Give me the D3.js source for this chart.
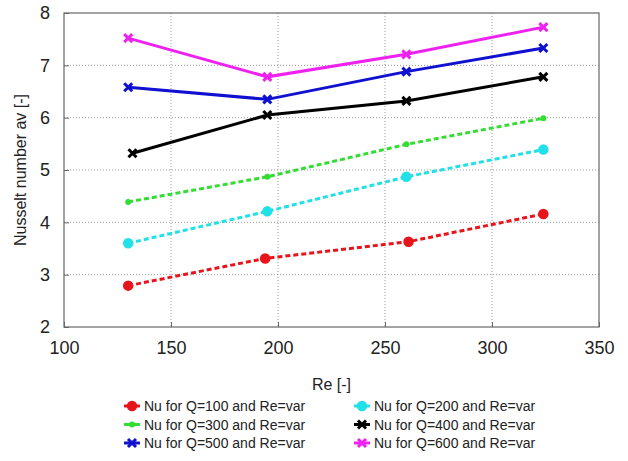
<!DOCTYPE html>
<html>
<head>
<meta charset="utf-8">
<script src="https://cdn.jsdelivr.net/npm/d3@7.9.0/dist/d3.min.js"></script>
<style>
  body { margin: 0; background: #fff; }
  svg { font-family: "Liberation Sans", Arial, sans-serif; }
</style>
</head>
<body>
<div id="chart"></div>
<script>
// values
const seriesNames = [
  "Nu for Q=100 and Re=var", "Nu for Q=200 and Re=var",
  "Nu for Q=300 and Re=var", "Nu for Q=400 and Re=var",
  "Nu for Q=500 and Re=var", "Nu for Q=600 and Re=var"
];
const reQ100 = [130, 194, 261, 324];
const nuQ100 = [2.79, 3.31, 3.63, 4.16];
const reQ200 = [130, 195, 260, 324];
const nuQ200 = [3.60, 4.21, 4.87, 5.39];
const reQ300 = [130, 195, 260, 324];
const nuQ300 = [4.39, 4.87, 5.49, 5.99];
const reQ400 = [132, 195, 260, 324];
const nuQ400 = [5.32, 6.05, 6.32, 6.78];
const reQ500 = [130, 195, 260, 324];
const nuQ500 = [6.58, 6.35, 6.88, 7.33];
const reQ600 = [130, 195, 260, 324];
const nuQ600 = [7.52, 6.78, 7.21, 7.73];
const xTicks = [100, 150, 200, 250, 300, 350];
const yTicks = [2, 3, 4, 5, 6, 7, 8];

const colors = ["#e8141c", "#22e0e8", "#33dd33", "#000000", "#1010d0", "#ee22ee"];
const dashed = [true, true, true, false, false, false];
const markers = ["circle", "circle", "dot", "x", "x", "x"];

const series = [
  [reQ100, nuQ100], [reQ200, nuQ200], [reQ300, nuQ300],
  [reQ400, nuQ400], [reQ500, nuQ500], [reQ600, nuQ600]
].map(([re, nu], i) => ({
  name: seriesNames[i],
  color: colors[i],
  dashed: dashed[i],
  marker: markers[i],
  points: re.map((r, j) => ({ re: r, nu: nu[j] }))
}));

const width = 628, height = 461;
const plot = { left: 64, right: 599, top: 13, bottom: 327 };

const svg = d3.select("#chart").append("svg")
  .attr("width", width).attr("height", height);

const x = d3.scaleLinear().domain([100, 350]).range([plot.left, plot.right]);
const y = d3.scaleLinear().domain([2, 8]).range([plot.bottom, plot.top]);

// grid
const grid = svg.append("g").attr("class", "grid");
grid.selectAll(".vx").data(xTicks.slice(1, -1)).join("line")
  .attr("x1", d => x(d)).attr("x2", d => x(d))
  .attr("y1", plot.top).attr("y2", plot.bottom)
  .attr("stroke", "#999").attr("stroke-width", 1).attr("stroke-dasharray", "1,2");
grid.selectAll(".hy").data(yTicks.slice(1, -1)).join("line")
  .attr("y1", d => y(d)).attr("y2", d => y(d))
  .attr("x1", plot.left).attr("x2", plot.right)
  .attr("stroke", "#999").attr("stroke-width", 1).attr("stroke-dasharray", "1,2");

// frame
svg.append("rect")
  .attr("x", plot.left).attr("y", plot.top)
  .attr("width", plot.right - plot.left).attr("height", plot.bottom - plot.top)
  .attr("fill", "none").attr("stroke", "#666").attr("stroke-width", 1.2);

// axes (inward ticks)
const xAxis = svg.append("g")
  .attr("transform", `translate(0,${plot.bottom})`)
  .call(d3.axisBottom(x).tickValues(xTicks).tickFormat(d3.format("d")).tickSize(-5).tickPadding(14));
const yAxis = svg.append("g")
  .attr("transform", `translate(${plot.left},0)`)
  .call(d3.axisLeft(y).tickValues(yTicks).tickFormat(d3.format("d")).tickSize(-5).tickPadding(14));
[xAxis, yAxis].forEach(a => {
  a.select(".domain").remove();
  a.selectAll(".tick line").attr("stroke", "#666");
  a.selectAll(".tick text").attr("font-size", 18).attr("fill", "#222")
    .attr("font-family", "Liberation Sans, Arial, sans-serif");
});

// axis titles
svg.append("text")
  .attr("x", x(225)).attr("y", 390)
  .attr("text-anchor", "middle").attr("font-size", 16).attr("fill", "#222")
  .text("Re [-]");
svg.append("text")
  .attr("transform", `translate(26,${y(5)}) rotate(-90)`)
  .attr("text-anchor", "middle").attr("font-size", 16).attr("fill", "#222")
  .text("Nusselt number av [-]");

const line = d3.line().x(d => x(d.re)).y(d => y(d.nu));

function drawMarker(g, s, cx, cy, scale) {
  if (s.marker === "circle") {
    g.append("circle").attr("cx", cx).attr("cy", cy).attr("r", 4.5 * scale)
      .attr("fill", s.color).attr("stroke", s.color).attr("stroke-width", 1.5);
  } else if (s.marker === "dot") {
    g.append("circle").attr("cx", cx).attr("cy", cy).attr("r", 3 * scale)
      .attr("fill", s.color);
  } else {
    const r = 4 * scale;
    g.append("path")
      .attr("d", `M${cx - r},${cy - r}L${cx + r},${cy + r}M${cx - r},${cy + r}L${cx + r},${cy - r}`)
      .attr("stroke", s.color).attr("stroke-width", 3).attr("fill", "none");
  }
}

const lines = svg.append("g").attr("class", "series");
series.forEach(s => {
  const g = lines.append("g");
  g.append("path").datum(s.points)
    .attr("d", line)
    .attr("fill", "none")
    .attr("stroke", s.color)
    .attr("stroke-width", 3)
    .attr("stroke-dasharray", s.dashed ? "5,3" : null);
  s.points.forEach(p => drawMarker(g, s, x(p.re), y(p.nu), 1));
});

// legend
const legend = svg.append("g").attr("class", "legend");
series.forEach((s, i) => {
  const col = i % 2, row = Math.floor(i / 2);
  const lx = col === 0 ? 132 : 362;
  const ly = 406 + row * 18.5;
  const g = legend.append("g");
  g.append("line")
    .attr("x1", lx - 8).attr("x2", lx + 8).attr("y1", ly).attr("y2", ly)
    .attr("stroke", s.color).attr("stroke-width", 3);
  drawMarker(g, s, lx, ly, 1);
  g.append("text")
    .attr("x", lx + 12).attr("y", ly + 5)
    .attr("font-size", 14).attr("fill", "#222")
    .text(s.name);
});
</script>
</body>
</html>
